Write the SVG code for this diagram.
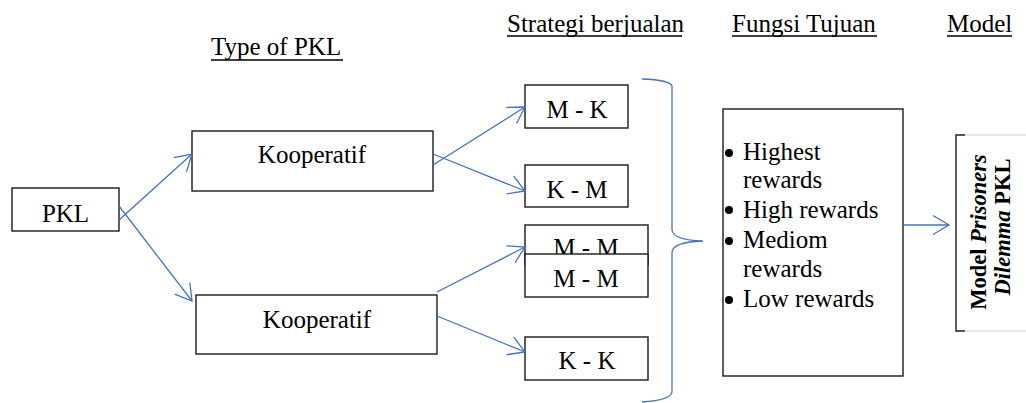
<svg xmlns="http://www.w3.org/2000/svg" width="1026" height="403" viewBox="0 0 1026 403">
<defs>
<style>
text{font-family:"Liberation Serif","Times New Roman",serif;font-size:25px;fill:#000}
.c{text-anchor:middle}
.box{fill:#fff;stroke:#1a1a1a;stroke-width:1.4}
.ul{stroke:#000;stroke-width:1.3}
.conn line,.conn path{stroke:#4472C4;stroke-width:1.3;fill:none}
.rot{font-size:22.5px;font-weight:bold}
</style>
<marker id="arr" markerUnits="userSpaceOnUse" markerWidth="22" markerHeight="22" viewBox="-18 -11 22 22" refX="0" refY="0" orient="auto" overflow="visible">
<path d="M-16,-9.5 L0,0 L-16,9.5" fill="none" stroke="#4472C4" stroke-width="1.3"/>
</marker>
</defs>
<rect width="1026" height="403" fill="#fff"/>

<g id="headers">
<text x="211" y="55">Type of PKL</text>
<line class="ul" x1="211" y1="60" x2="343" y2="60"/>
<text x="507" y="32">Strategi berjualan</text>
<line class="ul" x1="507" y1="36" x2="682" y2="36"/>
<text x="732" y="32">Fungsi Tujuan</text>
<line class="ul" x1="732" y1="36" x2="877" y2="36"/>
<text x="947" y="32">Model</text>
<line class="ul" x1="947" y1="36" x2="1012" y2="36"/>
</g>

<g id="node-pkl">
<rect class="box" x="12" y="188" width="107" height="43"/>
<text class="c" x="65.5" y="222">PKL</text>
</g>
<g id="node-koop1">
<rect class="box" x="192" y="131" width="241" height="60"/>
<text class="c" x="312" y="163">Kooperatif</text>
</g>
<g id="node-koop2">
<rect class="box" x="196" y="295" width="241" height="59"/>
<text class="c" x="317" y="328">Kooperatif</text>
</g>
<g id="node-mk">
<rect class="box" x="525" y="85" width="103" height="43"/>
<text class="c" x="577" y="118">M - K</text>
</g>
<g id="node-km">
<rect class="box" x="525" y="165" width="103" height="42"/>
<text class="c" x="577" y="198">K - M</text>
</g>
<g id="node-mm1">
<rect class="box" x="525" y="225" width="123" height="40"/>
<text class="c" x="586" y="256">M - M</text>
</g>
<g id="node-mm2">
<rect class="box" x="525" y="254" width="123" height="43"/>
<text class="c" x="586" y="287">M - M</text>
</g>
<g id="node-kk">
<rect class="box" x="525" y="337" width="123" height="43"/>
<text class="c" x="587" y="369">K - K</text>
</g>
<g id="node-fungsi">
<rect class="box" x="723" y="109" width="180" height="267"/>
<circle cx="729" cy="153" r="4"/>
<text x="743" y="160">Highest</text>
<text x="743" y="188">rewards</text>
<circle cx="729" cy="210" r="4"/>
<text x="743" y="218">High rewards</text>
<circle cx="729" cy="241" r="4"/>
<text x="743" y="248">Mediom</text>
<text x="743" y="277">rewards</text>
<circle cx="729" cy="300" r="4"/>
<text x="743" y="307">Low rewards</text>
</g>
<g id="node-model">
<path d="M965,135 L1026,135 M965,331 L1026,331" stroke="#d0d0d0" stroke-width="1.2" fill="none"/>
<path d="M965,135 L956,135 L956,331 L965,331" stroke="#1a1a1a" stroke-width="1.4" fill="none"/>
<text class="rot c" transform="translate(986,232) rotate(-90)">Model <tspan font-style="italic">Prisoners</tspan></text>
<text class="rot c" transform="translate(1010,227) rotate(-90)"><tspan font-style="italic">Dilemma</tspan> PKL</text>
</g>

<g class="conn" id="connectors">
<line x1="119" y1="220" x2="192" y2="154" marker-end="url(#arr)"/>
<line x1="119" y1="206" x2="192" y2="301" marker-end="url(#arr)"/>
<line x1="433" y1="165" x2="525" y2="107" marker-end="url(#arr)"/>
<line x1="433" y1="154" x2="525" y2="191" marker-end="url(#arr)"/>
<line x1="437" y1="292" x2="525" y2="247" marker-end="url(#arr)"/>
<line x1="437" y1="316" x2="525" y2="352" marker-end="url(#arr)"/>
<line x1="903" y1="225" x2="949" y2="225" marker-end="url(#arr)"/>
<path d="M642,79 Q670,80 672,86 L672,230 Q673,240 703,241 Q673,242 672,252 L672,392 Q671,400 642,402"/>
</g>
</svg>
